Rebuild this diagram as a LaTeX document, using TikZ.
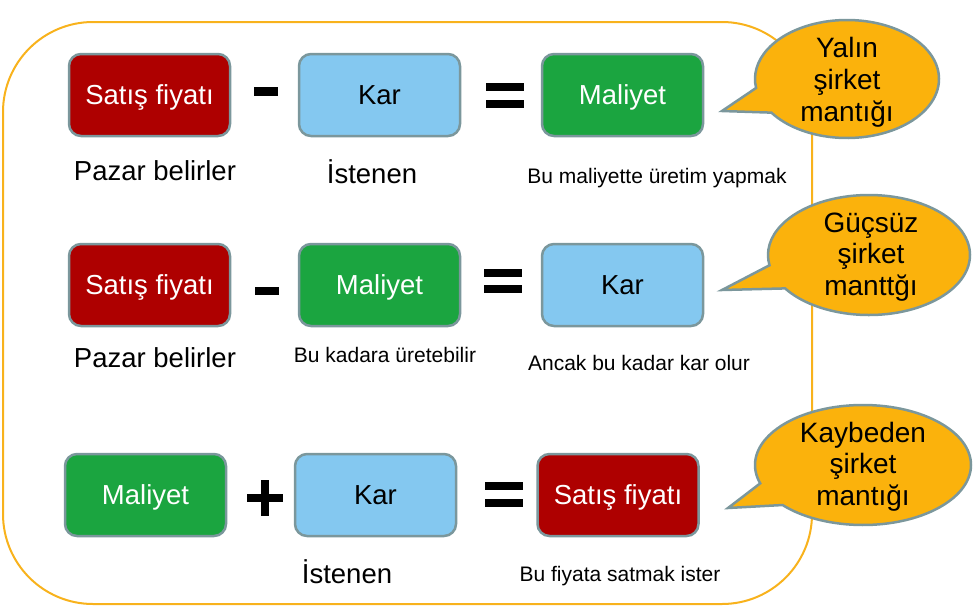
\documentclass[tikz,border=0pt]{standalone}
\usepackage{fontspec}
\setmainfont{Liberation Sans}
\usetikzlibrary{shapes.callouts,shapes.geometric}
\definecolor{boxred}{HTML}{AE0000}
\definecolor{boxblue}{HTML}{84C8F0}
\definecolor{boxgreen}{HTML}{1BA540}
\definecolor{edge}{HTML}{7B979C}
\definecolor{framecol}{HTML}{F8B21C}
\definecolor{bubblefill}{HTML}{FBB20C}
\tikzset{
  box/.style={rectangle, rounded corners=12pt, draw=edge, line width=2.5pt,
    minimum width=161pt, minimum height=82pt, inner sep=0pt,
    text height=19.5pt, text depth=0pt,
    font=\fontsize{27.5}{31}\selectfont},
  redbox/.style={box, fill=boxred, text=white},
  greenbox/.style={box, fill=boxgreen, text=white},
  bluebox/.style={box, fill=boxblue, text=black},
  opbar/.style={rectangle, fill=black, draw=none, inner sep=0pt, outer sep=0pt},
  bubble/.style={ellipse callout, draw=edge, line width=2.5pt, fill=bubblefill, inner sep=0pt},
  bubtxt/.style={anchor=base, inner sep=0pt, font=\fontsize{28}{31}\selectfont},
  lab/.style={anchor=base, inner sep=0pt, font=\fontsize{27.5}{31}\selectfont},
  slab/.style={anchor=base, inner sep=0pt, font=\fontsize{21}{24}\selectfont},
  framebox/.style={draw=framecol, line width=2pt, rounded corners=90pt},
}
\begin{document}
\begin{tikzpicture}[x=1pt, y=-1pt]
\useasboundingbox (0,0) rectangle (975,608);
\draw[framebox] (3,22) rectangle (812,604);

% callouts
\node[bubble, minimum width=184pt, minimum height=118pt, callout pointer arc=26,
  callout absolute pointer={(722,111)}] (c1) at (847,79) {};
\node[bubtxt] (c1a) at (847,57) {Yalın};
\node[bubtxt] (c1b) at (847,89) {şirket};
\node[bubtxt] (c1c) at (847,121) {mantığı};

\node[bubble, minimum width=202pt, minimum height=120pt, callout pointer arc=24,
  callout absolute pointer={(722,290)}] (c2) at (869,255) {};
\node[bubtxt] (c2a) at (871,232) {Güçsüz};
\node[bubtxt] (c2b) at (871,263) {şirket};
\node[bubtxt] (c2c) at (871,295) {manttğı};

\node[bubble, minimum width=216pt, minimum height=120pt, callout pointer arc=24,
  callout absolute pointer={(728,508)}] (c3) at (863,465) {};
\node[bubtxt] (c3a) at (863,442) {Kaybeden};
\node[bubtxt] (c3b) at (863,473) {şirket};
\node[bubtxt] (c3c) at (863,505) {mantığı};

% row 1
\node[redbox] (a1) at (149.5,95) {Satış fiyatı};
\node[opbar, minimum width=24pt, minimum height=9pt] (m1) at (266,91.5) {};
\node[bluebox] (b1) at (379.5,95) {Kar};
\node[opbar, minimum width=38pt, minimum height=8pt] (e1a) at (504.5,87) {};
\node[opbar, minimum width=38pt, minimum height=8pt] (e1b) at (504.5,104) {};
\node[greenbox] (d1) at (622.5,95) {Maliyet};
\node[lab] (l1a) at (155,180) {Pazar belirler};
\node[lab] (l1b) at (372,183) {İstenen};
\node[slab] (l1c) at (657,183) {Bu maliyette üretim yapmak};

% row 2
\node[redbox] (a2) at (149.5,285) {Satış fiyatı};
\node[opbar, minimum width=24pt, minimum height=8pt] (m2) at (267,291) {};
\node[greenbox] (b2) at (379.5,285) {Maliyet};
\node[opbar, minimum width=38pt, minimum height=8pt] (e2a) at (503,273) {};
\node[opbar, minimum width=38pt, minimum height=8pt] (e2b) at (503,289) {};
\node[bluebox] (d2) at (622.5,285) {Kar};
\node[lab] (l2a) at (155,367) {Pazar belirler};
\node[slab] (l2b) at (385,362) {Bu kadara üretebilir};
\node[slab] (l2c) at (639,370) {Ancak bu kadar kar olur};

% row 3
\node[greenbox] (a3) at (145.5,495) {Maliyet};
\node[opbar, minimum width=36pt, minimum height=8pt] (p3a) at (265,498) {};
\node[opbar, minimum width=8pt, minimum height=36pt] (p3b) at (265,498) {};
\node[bluebox] (b3) at (375.5,495) {Kar};
\node[opbar, minimum width=38pt, minimum height=8pt] (e3a) at (504,486) {};
\node[opbar, minimum width=38pt, minimum height=8pt] (e3b) at (504,503) {};
\node[redbox] (d3) at (618,495) {Satış fiyatı};
\node[lab] (l3a) at (347,583) {İstenen};
\node[slab] (l3b) at (620,581) {Bu fiyata satmak ister};
\end{tikzpicture}
\end{document}
